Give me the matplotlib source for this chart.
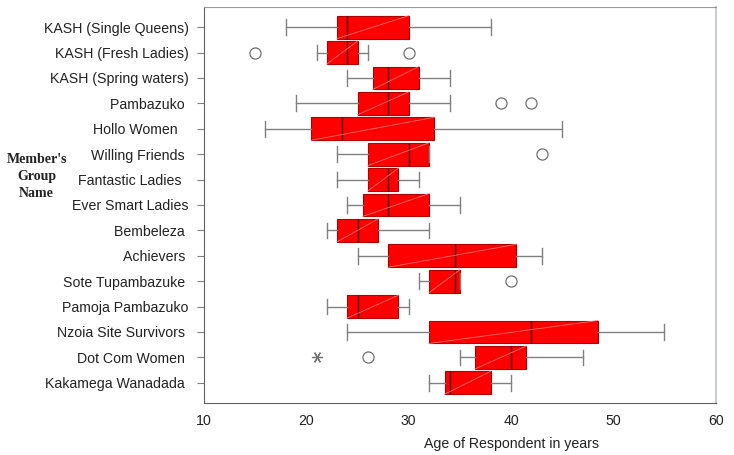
import matplotlib
matplotlib.use('Agg')
import matplotlib.pyplot as plt

# group names, top to bottom
groups = ['KASH (Single Queens)', 'KASH (Fresh Ladies)', 'KASH (Spring waters)',
          'Pambazuko ', 'Hollo Women   ', 'Willing Friends ', 'Fantastic Ladies  ',
          'Ever Smart Ladies', 'Bembeleza ', 'Achievers ', 'Sote Tupambazuke ',
          'Pamoja Pambazuko', 'Nzoia Site Survivors ', 'Dot Com Women ',
          'Kakamega Wanadada ']

# box plot summaries (ages in years)
whislo = [18, 21, 24, 19, 16, 23, 23, 24, 22, 25, 31, 22, 24, 35, 32]
q1     = [23, 22, 26.5, 25, 20.5, 26, 26, 25.5, 23, 28, 32, 24, 32, 36.5, 33.5]
median = [24, 24, 28, 28, 23.5, 30, 28, 28, 25, 34.5, 34.5, 25, 42, 40, 34]
q3     = [30, 25, 31, 30, 32.5, 32, 29, 32, 27, 40.5, 35, 29, 48.5, 41.5, 38]
whishi = [38, 26, 34, 34, 45, 32, 31, 35, 32, 43, 35, 30, 55, 47, 40]
outliers = [[], [15, 30], [], [39, 42], [], [43], [], [], [], [], [40], [], [], [26], []]
extremes = [[], [], [], [], [], [], [], [], [], [], [], [], [], [21], []]

xticks = [10, 20, 30, 40, 50, 60]

stats = []
for i in range(len(groups)):
    stats.append({'whislo': whislo[i], 'q1': q1[i], 'med': median[i],
                  'q3': q3[i], 'whishi': whishi[i], 'fliers': outliers[i]})

fig = plt.figure(figsize=(7.34, 4.55), dpi=100)
ax = fig.add_axes([0.278, 0.114, 0.697, 0.871])

pos = list(range(1, len(groups) + 1))
bw = 0.9
ax.bxp(stats, positions=pos, widths=bw, vert=False, patch_artist=True,
       capwidths=0.62,
       boxprops=dict(facecolor='#ff0000', edgecolor='#b00000', linewidth=0.8),
       medianprops=dict(color='#400000', linewidth=1.0),
       whiskerprops=dict(color='#808080', linewidth=1.0),
       capprops=dict(color='#808080', linewidth=1.0),
       flierprops=dict(marker='o', markerfacecolor='none', markeredgecolor='#707070',
                       markersize=8, markeredgewidth=0.9, linestyle='none'))

# faint diagonal highlight inside each box
for p, a, b in zip(pos, q1, q3):
    ax.plot([a, b], [p + bw / 2, p - bw / 2], color='#ff7070', lw=0.6, zorder=3)

# extreme values drawn as stars
for p, ex in zip(pos, extremes):
    for v in ex:
        ax.plot(v, p, marker=(6, 2, 90), color='#707070', markersize=8, mew=0.9)

ax.set_xlim(10, 60)
ax.set_ylim(15.8, 0.2)
ax.set_xticks(xticks)
ax.set_yticks(pos)
ax.set_yticklabels(groups, fontsize=10.2, family='Liberation Sans', color='#222222')
for lab in ax.get_xticklabels():
    lab.set_fontsize(10.2)
    lab.set_family('Liberation Sans')
    lab.set_color('#222222')
ax.tick_params(axis='x', length=0, pad=8)
ax.tick_params(axis='y', length=5, color='#808080', pad=6)

ax.spines['left'].set_color('#606060')
ax.spines['bottom'].set_color('#606060')
ax.spines['top'].set_color('#999999')
ax.spines['right'].set_color('#cccccc')
ax.spines['right'].set_linewidth(1.5)

ax.set_xlabel('Age of Respondent in years', fontsize=10.2, family='Liberation Sans',
              color='#222222')
ax.xaxis.set_label_coords(0.6, -0.085)

fig.text(0.05, 0.611, "Member's\nGroup\nName", ha='center', va='center',
         fontsize=10, family='Liberation Serif', fontweight='bold',
         linespacing=1.4, color='#222222')

fig.savefig('out.png', dpi=100)
